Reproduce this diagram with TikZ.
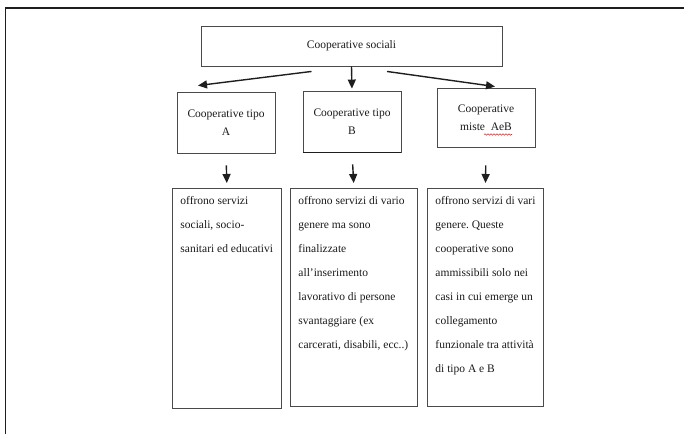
\documentclass[tikz,border=0pt]{standalone}
\usepackage{fontspec}
\setmainfont{Liberation Serif}
\usepackage{tikz}
\usetikzlibrary{arrows.meta, calc, decorations.pathmorphing}
\usepackage{xcolor}
\definecolor{coopframe}{HTML}{1E1E1E}
\definecolor{coopline}{HTML}{4A4A4A}
\definecolor{cooptext}{HTML}{1A1A1A}
\definecolor{coopred}{HTML}{D03030}
\newcommand{\coopdesc}[3]{\parbox[t][#2][t]{#1}{\raggedright\frenchspacing #3}}

\begin{document}
\begin{tikzpicture}[x=1pt, y=-1pt,
  box/.style={draw=coopline, line width=0.9pt, rectangle, inner sep=2pt,
    align=center, text=cooptext, font=\fontsize{11.5}{18}\selectfont},
  descbox/.style={draw=coopline, line width=0.9pt, rectangle, inner sep=8pt,
    anchor=north west, text=cooptext, font=\fontsize{11.5}{24}\selectfont},
  arr/.style={line width=1.4pt, coopframe, -{Triangle[length=9pt,width=8pt]}}]
  \useasboundingbox (0,0) rectangle (684,434);

  % Outer frame
  \draw[coopframe, line width=1.8pt] (684,8) -- (5,8);
  \draw[coopframe, line width=1pt] (5,8) -- (5,434);

  % Top level
  \node[box, minimum width=301pt, minimum height=40pt] (soc) at (351.5,46) {Cooperative sociali};

  % Cooperative types
  \node[box, minimum width=98pt, minimum height=61pt] (tipoA) at (226,122.5) {Cooperative tipo\\A};
  \node[box, minimum width=98pt, minimum height=61pt] (tipoB) at (352,121.5) {Cooperative tipo\\B};
  \draw[coopframe, line width=1.8pt] (tipoB.south west) -- (tipoB.south east);
  \node[box, minimum width=98pt, minimum height=59pt] (misto) at (486,117.5) {Cooperative\\miste\ \ AeB};
  \draw[coopred, line width=0.6pt, decorate, decoration={snake, amplitude=0.7pt, segment length=3pt}]
    ($(misto.center)+(-2,17)$) -- ($(misto.center)+(26,17)$);

  % Arrows from the top
  \draw[arr] ($(soc.south)+(-40,5)$) -- ($(tipoA.north)+(-28,-6)$);
  \draw[arr, shorten >=2pt] (soc.south) -- (tipoB.north);
  \draw[arr] ($(soc.south)+(35.5,5)$) -- ($(misto.north)+(9,-1)$);

  % Descriptions
  \node[descbox] (descA) at (172,188) {\coopdesc{93pt}{204pt}{offrono servizi\\
    sociali, socio-\\ sanitari ed educativi}};
  \node[descbox] (descB) at (290,188) {\coopdesc{111pt}{202pt}{offrono servizi di vario\\
    genere ma sono\\ finalizzate\\ all'inserimento\\ lavorativo di persone\\
    svantaggiare (ex\\ carcerati, disabili, ecc..)}};
  \node[descbox] (descC) at (427,188) {\coopdesc{100pt}{202pt}{offrono servizi di vari\\
    genere. Queste\\ cooperative sono\\ ammissibili solo nei\\ casi in cui emerge un\\
    collegamento\\ funzionale tra\ attività\\ di tipo A e B}};

  % Arrows to the descriptions
  \draw[arr, shorten <=12pt, shorten >=5pt] (tipoA.south) -- (descA.north);
  \draw[arr, shorten <=12pt, shorten >=5pt] (tipoB.south) -- (descB.north);
  \draw[arr, shorten <=18pt, shorten >=5pt] (misto.south) -- (descC.north);
\end{tikzpicture}
\end{document}
